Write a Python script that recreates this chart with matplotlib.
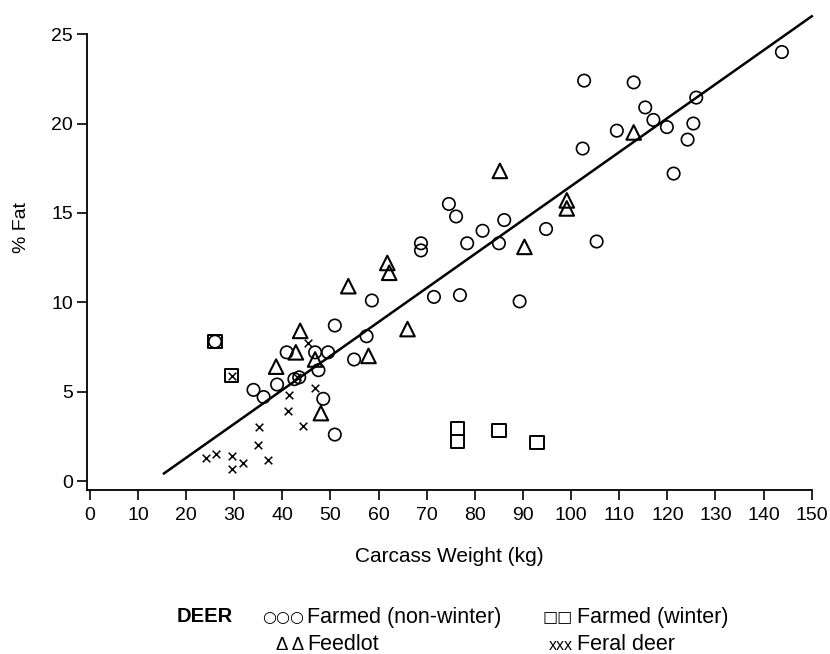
import matplotlib
matplotlib.use("Agg")
import matplotlib.pyplot as plt
import numpy as np

plt.rcParams['font.family'] = ['Liberation Sans', 'DejaVu Sans']

# farmed deer, non-winter (circles)
farmed_x = [26.0, 34.0, 36.1, 38.9, 40.9, 42.5, 43.5, 46.8, 47.5, 48.5, 49.5, 50.9, 50.9,
            54.9, 57.5, 58.6, 68.8, 68.8, 71.5, 74.6, 76.1, 76.9, 78.4, 81.6, 85.0, 86.1,
            89.3, 94.8, 102.4, 102.7, 105.3, 109.5, 113.0, 115.4, 117.1, 119.9, 121.3,
            124.2, 125.4, 126.0, 143.8]
farmed_y = [7.8, 5.1, 4.7, 5.4, 7.2, 5.7, 5.8, 7.2, 6.2, 4.6, 7.2, 8.7, 2.6,
            6.8, 8.1, 10.1, 13.3, 12.9, 10.3, 15.5, 14.8, 10.4, 13.3, 14.0, 13.3, 14.6,
            10.05, 14.1, 18.6, 22.4, 13.4, 19.6, 22.3, 20.9, 20.2, 19.8, 17.2,
            19.1, 20.0, 21.45, 24.0]

# farmed deer, winter (squares)
winter_x = [26.0, 29.5, 76.4, 76.4, 85.0, 92.9]
winter_y = [7.8, 5.9, 2.95, 2.2, 2.85, 2.15]

# feedlot (triangles)
feedlot_x = [38.7, 42.8, 43.7, 46.8, 48.0, 53.7, 57.9, 61.8, 62.2, 66.0, 85.2, 90.3, 99.1, 99.1, 113.0]
feedlot_y = [6.4, 7.2, 8.4, 6.8, 3.8, 10.9, 7.0, 12.2, 11.65, 8.5, 17.35, 13.1, 15.7, 15.25, 19.5]

# feral deer (crosses)
feral_x = [24.1, 26.3, 29.5, 29.5, 31.9, 37.1, 35.0, 35.2, 41.2, 41.4, 44.2, 46.8, 45.4, 29.5, 43.0]
feral_y = [1.27, 1.5, 1.4, 0.7, 1.0, 1.2, 2.0, 3.0, 3.9, 4.8, 3.1, 5.2, 7.7, 5.9, 5.8]

# regression line
line_x = [15.4, 150]
slope, intercept = 0.19, -2.5

fig = plt.figure(figsize=(8.3, 6.54), dpi=100)
ax = fig.add_axes([0.1048, 0.2508, 0.8732, 0.697])

ax.plot(line_x, [slope * v + intercept for v in line_x], color='black', lw=1.8, clip_on=False)
ax.scatter(winter_x, winter_y, marker='s', s=90, facecolors='none', edgecolors='black', linewidths=1.4)
ax.scatter(farmed_x, farmed_y, marker='o', s=80, facecolors='none', edgecolors='black', linewidths=1.2)
ax.scatter(feedlot_x, feedlot_y, marker='^', s=110, facecolors='none', edgecolors='black', linewidths=1.5)
ax.scatter(feral_x, feral_y, marker='x', s=30, color='black', linewidths=1.1)

ax.set_xlim(-0.6, 150)
ax.set_ylim(-0.5, 25)
ax.set_xticks(np.arange(0, 151, 10))
ax.set_yticks(np.arange(0, 26, 5))
ax.spines['top'].set_visible(False)
ax.spines['right'].set_visible(False)
for s in ['left', 'bottom']:
    ax.spines[s].set_linewidth(1.3)
ax.tick_params(direction='out', length=7, width=1.2, labelsize=14)
ax.tick_params(axis='x', pad=5)
ax.tick_params(axis='y', pad=3)

ax.set_xlabel('Carcass Weight (kg)', fontsize=15)
ax.xaxis.set_label_coords(0.5, -0.145)
ax.xaxis.label.set_va('center')
ax.set_ylabel('% Fat', fontsize=14)
ax.yaxis.set_label_coords(-0.09, 0.575)
ax.yaxis.label.set_va('center')

# legend written as text below the axes
row1, row2 = 1 - 617 / 654, 1 - 645 / 654
fig.text(177 / 830, row1, 'DEER', fontsize=14.5, fontweight='bold', va='center')
fig.text(304 / 830, row1, '\u25cb\u25cb\u25cb', fontsize=11.5, va='center', ha='right',
         family='DejaVu Sans')
fig.text(307 / 830, row1, 'Farmed (non-winter)', fontsize=15.5, va='center')
fig.text(573 / 830, row1, '\u25a1\u25a1', fontsize=11.5, va='center', ha='right',
         family='DejaVu Sans')
fig.text(577 / 830, row1, 'Farmed (winter)', fontsize=15.5, va='center')
fig.text(304 / 830, row2, '\u0394 \u0394', fontsize=13.5, va='center', ha='right')
fig.text(307 / 830, row2, 'Feedlot', fontsize=15.5, va='center')
fig.text(573 / 830, row2, 'xxx', fontsize=11.5, va='center', ha='right')
fig.text(577 / 830, row2, 'Feral deer', fontsize=15.5, va='center')

fig.savefig('out.png', dpi=100)
